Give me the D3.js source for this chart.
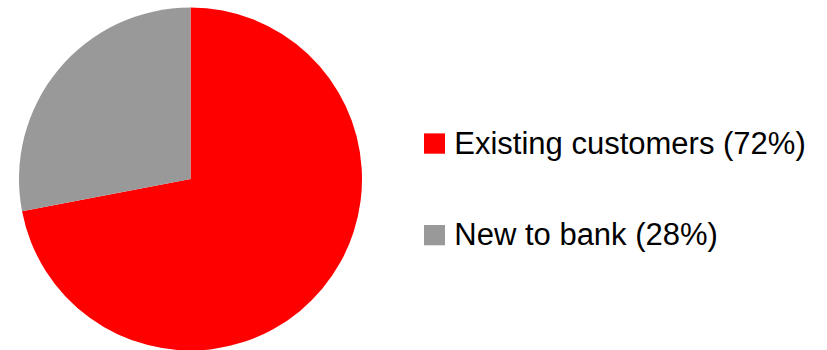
<!DOCTYPE html>
<html>
<head>
<meta charset="utf-8">
<script src="https://cdn.jsdelivr.net/npm/d3@7"></script>
<style>
  html, body { margin: 0; padding: 0; background: #fff; }
  svg { display: block; }
</style>
</head>
<body>
<svg id="chart" width="827" height="350"></svg>
<script>
// Customer split
const categories = ["Existing customers", "New to bank"];
const shares = [72, 28];
const colors = ["#ff0000", "#999999"];

const svg = d3.select("#chart");
const cx = 190.5, cy = 179, radius = 171.5;

const pie = d3.pie().sort(null).value(d => d.value);
const arc = d3.arc().innerRadius(0).outerRadius(radius);

const data = categories.map((c, i) => ({ name: c, value: shares[i], color: colors[i] }));

svg.append("g")
  .attr("transform", `translate(${cx},${cy})`)
  .selectAll("path")
  .data(pie(data))
  .join("path")
  .attr("d", arc)
  .attr("fill", d => d.data.color);

// Legend: rows positioned by their text baseline
const legendY = d3.scalePoint().domain(categories).range([153.7, 245.3]);
const legend = svg.append("g")
  .selectAll("g")
  .data(data)
  .join("g")
  .attr("transform", d => `translate(424,${legendY(d.name)})`);

legend.append("rect")
  .attr("x", 0).attr("y", -20.3)
  .attr("width", 21).attr("height", 20.3)
  .attr("fill", d => d.color);

legend.append("text")
  .attr("x", 30.3).attr("y", 0)
  .attr("font-family", "Liberation Sans, Arial, sans-serif")
  .attr("font-size", 31)
  .attr("fill", "#000")
  .text(d => `${d.name} (${d.value}%)`);
</script>
</body>
</html>
